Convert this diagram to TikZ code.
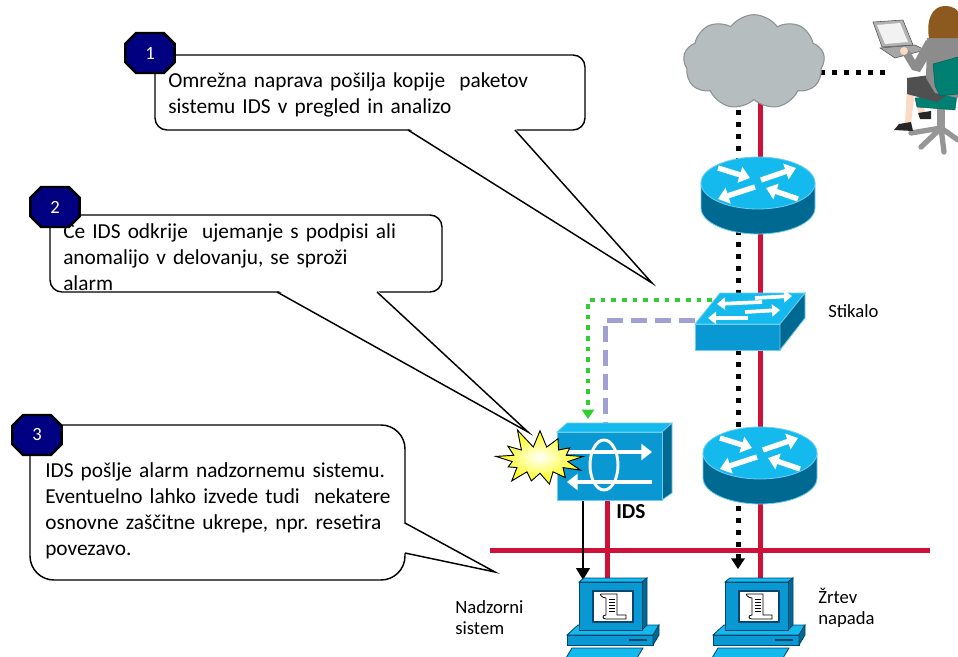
\documentclass[tikz,border=0pt]{standalone}
\usepackage{fontspec}
\setmainfont{Carlito}
\frenchspacing
\usetikzlibrary{arrows.meta, shapes.misc, shapes.symbols}

\definecolor{badgenavy}{RGB}{0,0,128}
\definecolor{netred}{RGB}{206,17,56}
\definecolor{cloudgray}{RGB}{182,189,191}
\definecolor{cloudline}{RGB}{140,145,148}
\definecolor{ciscolight}{RGB}{20,185,238}
\definecolor{ciscomid}{RGB}{10,152,210}
\definecolor{ciscodark}{RGB}{0,105,145}
\definecolor{ciscoedge}{RGB}{110,205,240}
\definecolor{pcedge}{RGB}{0,70,110}
\definecolor{copygreen}{RGB}{50,205,50}
\definecolor{spanlilac}{RGB}{160,160,210}
\definecolor{chairteal}{RGB}{0,128,115}
\definecolor{chairgray}{RGB}{150,150,150}
\definecolor{hairbrown}{RGB}{140,90,30}
\definecolor{skin}{RGB}{250,218,195}
\definecolor{jacket}{RGB}{140,140,140}
\definecolor{skirt}{RGB}{80,80,80}

\tikzset{
  badge/.style={chamfered rectangle, chamfered rectangle xsep=7pt,
    chamfered rectangle ysep=7pt, minimum width=37pt, minimum height=30pt,
    inner sep=0pt, fill=badgenavy, draw=black, line width=1.8pt,
    text=white, font=\fontsize{14}{14}\selectfont},
  callout/.style={draw=black, line width=1.1pt, fill=white, rounded corners=9pt},
  note/.style={text width=330pt, align=left, inner sep=0pt,
    font=\fontsize{16}{19.5}\selectfont},
  lbl/.style={text width=60pt, align=left, inner sep=0pt,
    font=\fontsize{14}{16}\selectfont},
  redline/.style={netred, line width=3.75pt},
  blackdots/.style={line width=3.75pt, dash pattern=on 3.75pt off 5.25pt},
  greendots/.style={copygreen, line width=3pt, dash pattern=on 3.5pt off 4.5pt},
  lilacdash/.style={spanlilac, line width=3.75pt, dash pattern=on 12pt off 6pt},
  wharrow/.style={white, line width=4pt, -{Triangle[width=12pt, length=8pt]}},
  swarrow/.style={white, line width=2.8pt, -{Triangle[width=9pt, length=6pt]}},
  iconline/.style={draw=ciscoedge, line width=0.6pt},
  pcline/.style={draw=pcedge, line width=0.6pt},
  % router: origin in the middle of the top face
  pics/router/.style={code={
    \fill[ciscodark] (-57,0) -- (-57,25) arc[start angle=180, end angle=0, x radius=57, y radius=26] -- (57,0) -- cycle;
    \draw[iconline] (-57,0) -- (-57,25) arc[start angle=180, end angle=0, x radius=57, y radius=26] -- (57,0);
    \draw[iconline, fill=ciscolight] (0,0) ellipse[x radius=57, y radius=26];
    \draw[wharrow] (-40,-15) -- (-8,-5);
    \draw[wharrow] (3,-3) -- (38,-15);
    \draw[wharrow] (-3,4) -- (-40,16);
    \draw[wharrow] (40,16) -- (8,5);
  }},
  % switch: origin at the front top edge
  pics/switch/.style={code={
    \draw[iconline, fill=ciscolight] (-30,-29) -- (55,-29) -- (30,2) -- (-55,2) -- cycle;
    \draw[iconline, fill=ciscomid] (-55,2) rectangle (30,28);
    \draw[iconline, fill=ciscodark] (30,2) -- (55,-29) -- (55,-4) -- (30,28) -- cycle;
    \draw[swarrow] (12,-20) -- (-33,-18);
    \draw[swarrow] (5,-24) -- (42,-26);
    \draw[swarrow] (-2,-4) -- (-42,-4);
    \draw[swarrow] (-5,-10) -- (30,-12);
  }},
  % sensor box: origin at the front top left corner
  pics/sensor/.style={code={
    \draw[iconline, fill=ciscolight] (0,0) -- (10,-9) -- (115,-9) -- (105,0) -- cycle;
    \draw[iconline, fill=ciscodark] (105,0) -- (115,-9) -- (115,61) -- (105,68) -- cycle;
    \draw[iconline, fill=ciscomid] (0,0) rectangle (105,68);
    \draw[white, line width=2.2pt] (47,33) ellipse[x radius=14, y radius=25];
    \draw[wharrow, line width=3pt] (10,20) -- (95,20);
    \draw[wharrow, line width=3pt] (95,50) -- (10,50);
  }},
  % workstation: origin at the monitor's front top left corner
  pics/workstation/.style={code={
    \draw[pcline, fill=ciscolight] (-1,43) -- (80,43) -- (74,53) -- (-12,53) -- cycle;
    \draw[pcline, fill=ciscomid] (-12,53) rectangle (74,63);
    \draw[pcline, fill=ciscodark] (74,53) -- (80,43) -- (80,53) -- (74,63) -- cycle;
    \draw[pcedge, line width=1pt] (50,58) -- (68,58);
    \draw[pcline, fill=ciscolight] (-7,66) -- (64,66) -- (58,76) -- (-13,76) -- cycle;
    \draw[pcline, fill=ciscolight] (0,0) -- (5,-4) -- (68,-4) -- (63,0) -- cycle;
    \draw[pcline, fill=ciscodark] (63,0) -- (68,-4) -- (68,43) -- (63,48) -- cycle;
    \draw[pcline, fill=ciscomid] (0,0) rectangle (63,48);
    \draw[pcline, line width=0.9pt, fill=white] (14,9) rectangle (54,40);
    % scroll
    \draw[line width=0.6pt, fill=white] (22,12) -- (38,12) -- (38,33) -- (47,33) -- (47,37) -- (27,37)
      .. controls (23,37) and (23,33) .. (27,33) -- (27,16) .. controls (23,16) and (20,12) .. (22,12);
    \foreach \yy in {17,20,...,29} \draw[line width=0.6pt] (30,\yy) -- (36,\yy);
  }}
}

\begin{document}
\begin{tikzpicture}[x=0.75pt, y=-0.75pt]
  \useasboundingbox (0,0) rectangle (958,657);

  % attachment points
  \coordinate (lap) at (885,72);
  \coordinate (tap) at (738,569);
  \coordinate (victim) at (760,582);
  \coordinate (console) at (583,580);
  \coordinate (monitor) at (607,582);
  \coordinate (idsout) at (583,500);
  \coordinate (idsred) at (607,500);
  \coordinate (swcopy) at (712,300);
  \coordinate (idscopy) at (588,419);
  \coordinate (swspan) at (695,320);
  \coordinate (idsspan) at (605,430);
  \coordinate (lanL) at (490,550);
  \coordinate (lanR) at (930,550);

  \node[cloud, cloud puffs=9, cloud puff arc=110, aspect=1.5, minimum width=106pt,
    minimum height=71pt, inner sep=0pt] (cloud) at (754,62) {};

  % links
  \draw[redline] (cloud.center -| victim) -- (victim);
  \draw[redline] (lanL) -- (lanR);
  \draw[redline] (idsred) -- (monitor);
  \draw[blackdots] (lap) -- (lap -| cloud.center);
  \draw[blackdots, -{Triangle[width=10pt, length=8pt]}] (cloud.center -| tap) -- (tap);
  \draw[greendots, -{Triangle[width=9pt, length=7pt]}] (swcopy) -| (idscopy);
  \draw[lilacdash] (swspan) -| (idsspan);
  \draw[line width=2.2pt, -{Triangle[width=10pt, length=9pt]}] (idsout) -- (console);

  % devices
  \node[cloud, cloud puffs=9, cloud puff arc=110, aspect=1.5, minimum width=106pt,
    minimum height=71pt, inner sep=0pt, fill=cloudgray, draw=cloudline,
    line width=0.8pt] (cloudtop) at (cloud) {};
  \pic at (758,183) {router};
  \pic at (750,322) {switch};
  \pic at (760,453) {router};
  \pic at (557,432) {sensor};
  \node[starburst, starburst points=13, starburst point height=16pt, random starburst=11,
    minimum width=74pt, minimum height=52pt, inner sep=0pt, draw=black, line width=0.7pt,
    inner color=white, outer color=yellow] (alarm) at (540,460) {};
  \pic at (579,582) {workstation};
  \pic at (725,582) {workstation};

  % user at the laptop
  \begin{scope}[line cap=round]
    \draw[chairgray, line width=4pt] (941,128) -- (911,133) (941,128) -- (921,147)
      (941,128) -- (944,152) (941,128) -- (958,140);
  \end{scope}
  \fill[chairgray] (937,108) rectangle (945,128);
  \fill[skin] (907,88) -- (915,90) -- (911,124) -- (905,124) -- cycle;
  \fill[skin] (916,104) -- (923,104) -- (926,116) -- (920,117) -- cycle;
  \fill[black!85] (894,130) -- (899,124) -- (911,122) -- (913,131) -- cycle;
  \fill[black!85] (918,113) -- (931,111) -- (931,119) -- (920,119) -- cycle;
  \draw[chairteal!70!black, line width=0.3pt, fill=chairteal] (915,98) -- (957,95) -- (955,110) -- (917,107) -- cycle;
  \fill[skirt] (907,78) -- (930,75) -- (950,93) -- (937,102) -- (907,94) -- cycle;
  \fill[jacket] (927,38) -- (958,36) -- (958,98) -- (935,93) -- (926,78) -- cycle;
  \draw[chairteal!70!black, line width=0.3pt, fill=chairteal] (933,64) -- (958,57) -- (958,94) -- (940,96) -- (935,86) -- cycle;
  \fill[hairbrown] (929,38) .. controls (926,20) and (932,6) .. (945,6)
    .. controls (953,6) and (958,10) .. (958,12) -- (958,38) -- cycle;
  \draw[black!70, line width=0.4pt, fill=gray!70] (880,48) -- (915,45) -- (925,50) -- (895,58) -- cycle;
  \draw[black!70, line width=0.4pt, fill=gray!60] (873,22) -- (903,20) -- (913,45) -- (882,47) -- cycle;
  \fill[gray!10] (877,25) -- (900,23) -- (908,42) -- (885,44) -- cycle;
  \fill[jacket] (926,40) -- (934,48) -- (920,72) -- (912,70) -- (903,55) -- (909,50) -- (915,60) -- cycle;
  \fill[skin] (904,51) circle[radius=4];

  % callouts
  \draw[callout] (155,55) rectangle (585,130);
  \fill[white] (408,128) -- (652,283) -- (515,128) -- cycle;
  \draw[line width=1.1pt] (408,130) -- (652,283) -- (515,130);
  \node[note, anchor=base west] (n1) at (168,87)
    {Omrežna naprava pošilja kopije\ \ paketov\\sistemu IDS v pregled in analizo};
  \node[badge] (b1) at (150,53) {1};

  \draw[callout] (50,215) rectangle (442,292);
  \fill[white] (277,290) -- (528,432) -- (377,290) -- cycle;
  \draw[line width=1.1pt] (277,292) -- (528,432) -- (377,292);
  \node[note, anchor=base west] (n2) at (63,238)
    {Če IDS odkrije\ \ ujemanje s podpisi ali\\anomalijo v delovanju, se sproži\\alarm};
  \node[badge] (b2) at (55,207) {2};

  \draw[callout, rounded corners=18pt] (30,425) rectangle (405,580);
  \fill[white] (403,523) -- (495,572) -- (403,553) -- cycle;
  \draw[line width=1.1pt] (405,523) -- (495,572) -- (405,553);
  \node[note, anchor=base west] (n3) at (45,477)
    {IDS pošlje alarm nadzornemu sistemu.\\Eventuelno lahko izvede tudi\ \ nekatere\\osnovne zaščitne ukrepe, npr. resetira\\povezavo.};
  \node[badge] (b3) at (37,435) {3};

  % labels
  \node[lbl, anchor=base west] (stikalo) at (828,317) {Stikalo};
  \node[inner sep=0pt, anchor=base west, font=\fontsize{16}{16}\selectfont\bfseries] (idslbl) at (616,518) {IDS};
  \node[lbl, anchor=base west] (nadzor) at (455,613) {Nadzorni\\sistem};
  \node[lbl, anchor=base west] (zrtev) at (818,603) {Žrtev\\napada};
\end{tikzpicture}
\end{document}
